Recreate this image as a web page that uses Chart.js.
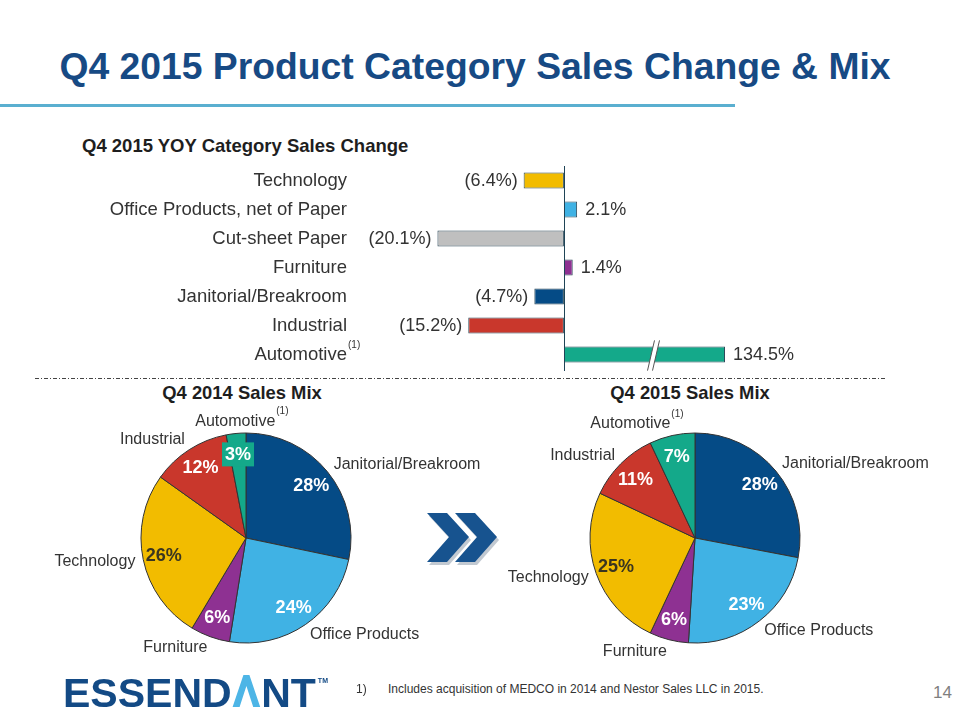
<!DOCTYPE html>
<html>
<head>
<meta charset="utf-8">
<script src="https://cdn.jsdelivr.net/npm/chart.js@4.4.0/dist/chart.umd.min.js"></script>
<style>
  html, body { margin: 0; padding: 0; background: #fff; }
  #slide { position: relative; width: 960px; height: 720px; overflow: hidden;
           font-family: "Liberation Sans", Arial, sans-serif; color: #333; }
  .abs { position: absolute; white-space: nowrap; }
  #title { left: 0; width: 950px; top: 48px; text-align: center; font-weight: bold;
           font-size: 37.3px; line-height: 37px; color: #174a84; }
  #rule { left: 0; top: 104px; width: 735px; height: 3px; background: #5aafd0; }
  #barTitle { left: 82px; top: 137px; font-weight: bold; font-size: 18.5px; line-height: 18px; color: #1e1e1e; }
  .pieTitle { width: 240px; text-align: center; top: 384px; font-weight: bold; font-size: 18.4px;
              line-height: 18px; color: #1e1e1e; }
  .foot { top: 683px; font-size: 12px; line-height: 12px; color: #333; }
  #page { left: 933px; top: 684px; font-size: 17px; line-height: 17px; color: #7f7f7f; }
</style>
</head>
<body>
<div id="slide">
  <div id="title" class="abs">Q4 2015 Product Category Sales Change &amp; Mix</div>
  <div id="rule" class="abs"></div>

  <div id="barTitle" class="abs">Q4 2015 YOY Category Sales Change</div>
  <canvas id="changeChart" class="abs" style="left:0;top:160px" width="960" height="212"></canvas>

  <svg class="abs" style="left:0;top:372px" width="960" height="12">
    <line x1="35" y1="6.5" x2="885" y2="6.5" stroke="#444" stroke-width="1" stroke-dasharray="4 2 1 2"/>
  </svg>

  <div class="abs pieTitle" style="left:122px">Q4 2014 Sales Mix</div>
  <div class="abs pieTitle" style="left:570px">Q4 2015 Sales Mix</div>

  <svg class="abs" style="left:420px;top:505px" width="90" height="70">
    <g fill="#9aa6b4" opacity="0.6">
      <polygon points="9,11 29,11 51,35 29,60 9,60 31,35"/>
      <polygon points="37,11 57,11 79,35 57,60 37,60 59,35"/>
    </g>
    <g fill="#17538f">
      <polygon points="7,8 27,8 49,32 27,57 7,57 29,32"/>
      <polygon points="35,8 55,8 77,32 55,57 35,57 57,32"/>
    </g>
  </svg>

  <canvas id="mix2014" class="abs" style="left:40px;top:400px" width="460" height="270"></canvas>
  <canvas id="mix2015" class="abs" style="left:490px;top:400px" width="460" height="270"></canvas>

  <canvas id="logo" class="abs" style="left:55px;top:662px" width="300" height="56"></canvas>
  <div class="abs foot" style="left:356px">1)</div>
  <div class="abs foot" style="left:388px">Includes acquisition of MEDCO in 2014 and Nestor Sales LLC in 2015.</div>
  <div id="page" class="abs">14</div>
</div>

<script>
'use strict';

// ── DATA ──
const CHANGE_CATEGORIES = ['Technology', 'Office Products, net of Paper', 'Cut-sheet Paper',
                           'Furniture', 'Janitorial/Breakroom', 'Industrial', 'Automotive'];
const CHANGE_VALUES     = [-6.4, 2.1, -20.1, 1.4, -4.7, -15.2, 134.5];
const CHANGE_COLORS     = ['#f2bc00', '#40b2e4', '#bfbfbf', '#8e3192', '#054b86', '#c9372c', '#14a98a'];

const MIX_CATEGORIES = ['Janitorial/Breakroom', 'Office Products', 'Furniture', 'Technology', 'Industrial', 'Automotive'];
const MIX_2014       = [28, 24, 6, 26, 12, 3];
const MIX_2015       = [28, 23, 6, 25, 11, 7];
const MIX_COLORS     = ['#054b86', '#40b2e4', '#8e3192', '#f2bc00', '#c9372c', '#14a98a'];

const FOOTNOTED = ['Automotive'];

// ── CONFIG ──
const X_MIN = -33.2;   // left end of the change axis
const X_MAX = 25.6;    // axis is broken past this point
const TEXT  = '#333';
const FONT  = '"Liberation Sans", Arial, sans-serif';

// ── BAR CHART DECOR: zero line, value labels, axis break, footnote ──
const changeDecor = {
  id: 'changeDecor',
  afterDatasetsDraw(chart) {
    const { ctx, chartArea } = chart;
    const xs = chart.scales.x, ys = chart.scales.y;
    const x0 = Math.round(xs.getPixelForValue(0)) + 0.5;

    ctx.save();
    ctx.strokeStyle = '#1f4456';
    ctx.lineWidth = 1;
    ctx.beginPath();
    ctx.moveTo(x0, chartArea.top);
    ctx.lineTo(x0, chartArea.bottom + 2);
    ctx.stroke();

    ctx.font = '18px ' + FONT;
    ctx.fillStyle = TEXT;
    ctx.textBaseline = 'middle';
    chart.getDatasetMeta(0).data.forEach((bar, i) => {
      const v = CHANGE_VALUES[i];
      if (v < 0) {
        ctx.textAlign = 'right';
        ctx.fillText('(' + Math.abs(v).toFixed(1) + '%)', bar.x - 6, bar.y + 1);
      } else {
        ctx.textAlign = 'left';
        ctx.fillText(v.toFixed(1) + '%', bar.x + 8, bar.y + 1);
      }
      // axis break marks on the truncated bar
      if (v > X_MAX) {
        const xb = bar.base + (bar.x - bar.base) * 0.55;
        const t = bar.y - bar.height / 2 - 6, b = bar.y + bar.height / 2 + 8;
        ctx.fillStyle = '#fff';
        ctx.beginPath();
        ctx.moveTo(xb - 5, b); ctx.lineTo(xb + 2, t); ctx.lineTo(xb + 7, t); ctx.lineTo(xb, b);
        ctx.closePath();
        ctx.fill();
        ctx.strokeStyle = '#555';
        ctx.beginPath();
        ctx.moveTo(xb - 5, b); ctx.lineTo(xb + 2, t);
        ctx.moveTo(xb, b); ctx.lineTo(xb + 7, t);
        ctx.stroke();
        ctx.fillStyle = TEXT;
      }
    });

    // footnote marker beside the tick label
    ctx.font = '10px ' + FONT;
    ctx.textAlign = 'left';
    CHANGE_CATEGORIES.forEach((c, i) => {
      if (FOOTNOTED.includes(c)) ctx.fillText('(1)', ys.right - 7, ys.getPixelForTick(i) - 9);
    });
    ctx.restore();
  }
};

new Chart(document.getElementById('changeChart'), {
  type: 'bar',
  data: {
    labels: CHANGE_CATEGORIES,
    datasets: [{
      data: CHANGE_VALUES.map(v => Math.min(v, X_MAX)),
      backgroundColor: CHANGE_COLORS,
      borderColor: '#2d4a5a',
      borderWidth: 1,
      borderSkipped: false,
      categoryPercentage: 1,
      barPercentage: 0.56,
    }]
  },
  options: {
    indexAxis: 'y',
    responsive: false,
    animation: false,
    events: [],
    layout: { padding: { top: 6, bottom: 3, right: 235, left: 0 } },
    plugins: { legend: { display: false }, tooltip: { enabled: false } },
    scales: {
      x: { display: false, min: X_MIN, max: X_MAX },
      y: {
        grid: { display: false, drawTicks: false },
        border: { display: false },
        ticks: { color: TEXT, font: { family: FONT, size: 18.5 }, padding: 8 },
        afterFit(scale) {
          scale.width = 355;
          scale.paddingTop = 0;
          scale.paddingBottom = 0;
        }
      }
    }
  },
  plugins: [changeDecor]
});

// ── PIE LABELS: values inside, category names outside ──
const mixLabels = {
  id: 'mixLabels',
  afterDatasetsDraw(chart) {
    const { ctx } = chart;
    const values = chart.data.datasets[0].data;
    ctx.save();
    ctx.textBaseline = 'middle';
    chart.getDatasetMeta(0).data.forEach((arc, i) => {
      const { x, y, startAngle, endAngle, outerRadius } = arc.getProps(['x', 'y', 'startAngle', 'endAngle', 'outerRadius'], true);
      const mid = (startAngle + endAngle) / 2;
      const cos = Math.cos(mid), sin = Math.sin(mid);

      // value
      const txt = values[i] + '%';
      const vx = x + cos * outerRadius * 0.8, vy = y + sin * outerRadius * 0.8;
      ctx.font = 'bold 18px ' + FONT;
      ctx.textAlign = 'center';
      if (values[i] < 5) {
        const w = ctx.measureText(txt).width;
        ctx.fillStyle = MIX_COLORS[i];
        ctx.fillRect(vx - w / 2 - 3, vy - 12, w + 6, 24);
      }
      ctx.fillStyle = MIX_CATEGORIES[i] === 'Technology' ? '#3a3520' : '#fff';
      ctx.fillText(txt, vx, vy + 1);

      // category name
      const lx = x + cos * (outerRadius + 8), ly = y + sin * (outerRadius + 12);
      ctx.font = '16px ' + FONT;
      ctx.fillStyle = TEXT;
      ctx.textAlign = Math.abs(cos) < 0.2 ? 'center' : (cos > 0 ? 'left' : 'right');
      ctx.fillText(MIX_CATEGORIES[i], lx, ly);
      if (FOOTNOTED.includes(MIX_CATEGORIES[i])) {
        const w = ctx.measureText(MIX_CATEGORIES[i]).width;
        const endX = ctx.textAlign === 'center' ? lx + w / 2 : (ctx.textAlign === 'left' ? lx + w : lx);
        ctx.font = '10px ' + FONT;
        ctx.textAlign = 'left';
        ctx.fillText('(1)', endX + 1, ly - 10);
      }
    });
    ctx.restore();
  }
};

function makeMix(id, values, padLeft) {
  return new Chart(document.getElementById(id), {
    type: 'pie',
    data: {
      labels: MIX_CATEGORIES,
      datasets: [{
        data: values,
        backgroundColor: MIX_COLORS,
        borderColor: '#333',
        borderWidth: 1,
        hoverOffset: 0,
      }]
    },
    options: {
      responsive: false,
      animation: false,
      events: [],
      radius: 105,
      layout: { padding: { left: padLeft, right: 460 - 210 - padLeft, top: 33, bottom: 27 } },
      plugins: { legend: { display: false }, tooltip: { enabled: false } }
    },
    plugins: [mixLabels]
  });
}

makeMix('mix2014', MIX_2014, 101);
makeMix('mix2015', MIX_2015, 100);

// ── LOGO ──
function drawLogo() {
  const ctx = document.getElementById('logo').getContext('2d');
  const base = 45, capH = 29;
  ctx.font = 'bold 41px ' + FONT;
  ctx.fillStyle = '#134a85';
  ctx.textBaseline = 'alphabetic';
  let x = 8;
  ctx.fillText('ESSEND', x, base);
  x += ctx.measureText('ESSEND').width;
  const aw = ctx.measureText('A').width;
  ctx.fillStyle = '#4db5e6';
  ctx.beginPath();
  ctx.moveTo(x + aw / 2 - 3, base - capH - 3);
  ctx.lineTo(x + aw / 2 + 3, base - capH - 3);
  ctx.lineTo(x + aw - 1, base);
  ctx.lineTo(x + aw - 8, base);
  ctx.lineTo(x + aw / 2, base - capH + 8);
  ctx.lineTo(x + 8, base);
  ctx.lineTo(x + 1, base);
  ctx.closePath();
  ctx.fill();
  x += aw;
  ctx.fillStyle = '#134a85';
  ctx.fillText('NT', x, base);
  x += ctx.measureText('NT').width;
  ctx.font = 'bold 7px ' + FONT;
  ctx.fillText('TM', x + 2, base - capH + 5);
}
drawLogo();
</script>
</body>
</html>
